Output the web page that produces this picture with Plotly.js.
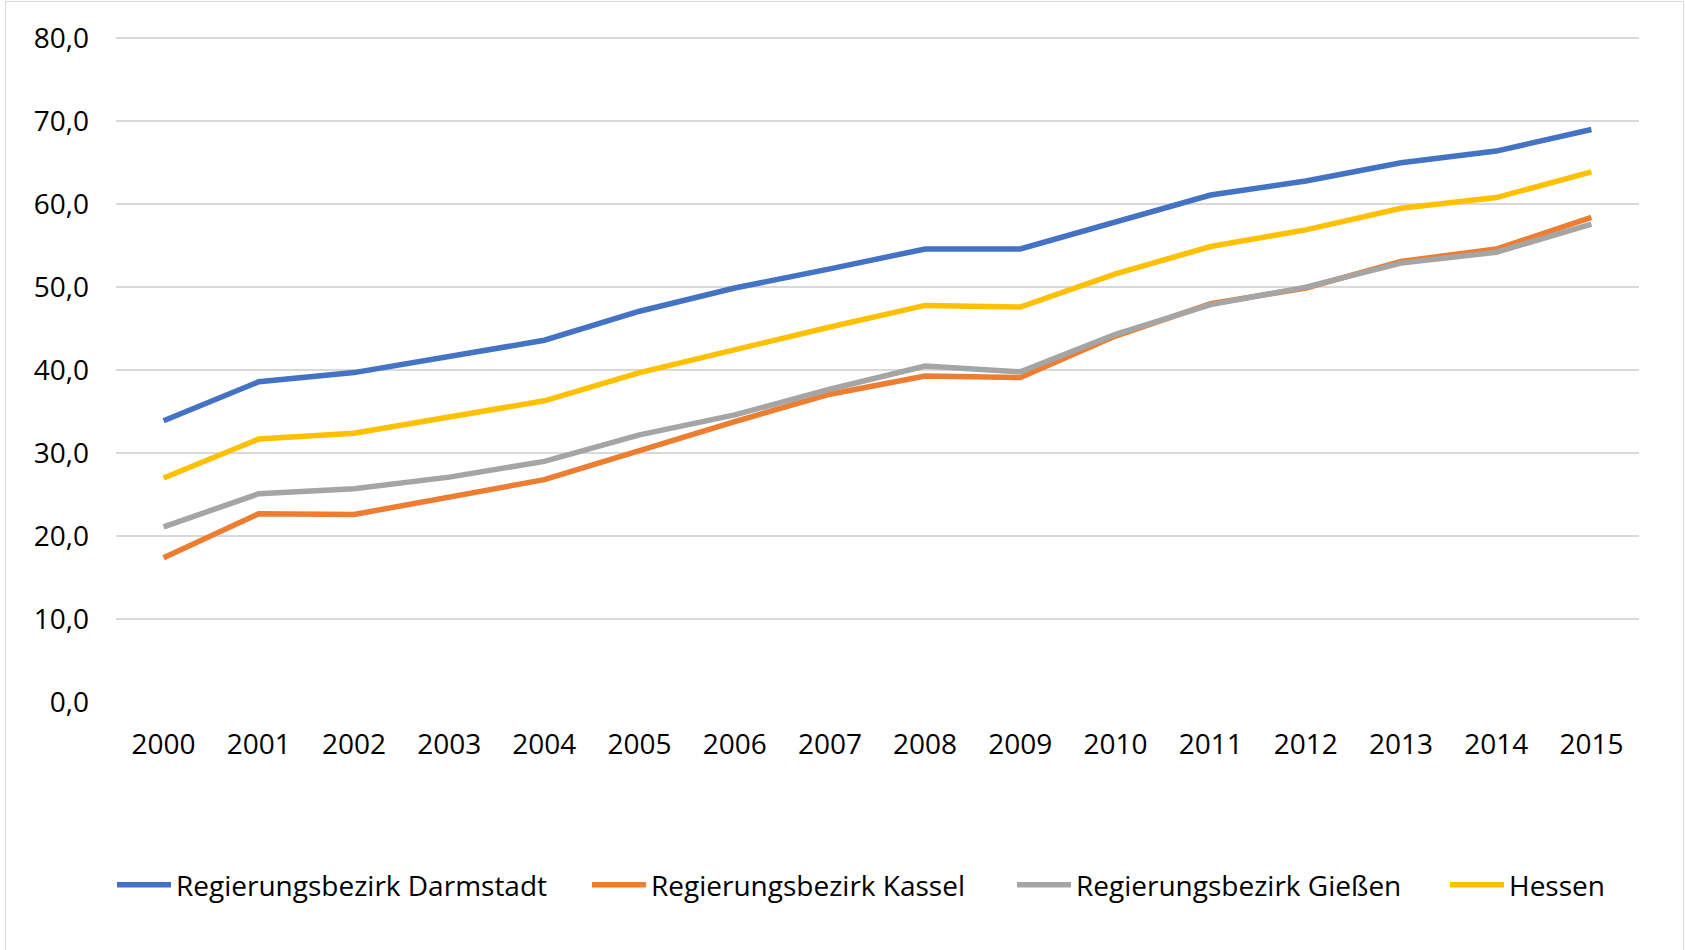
<!DOCTYPE html>
<html>
<head>
<meta charset="utf-8">
<script src="https://cdn.plot.ly/plotly-3.0.1.min.js"></script>
<style>
  html, body { margin: 0; padding: 0; background: #fff; overflow: hidden; }
  #chart { width: 1685px; height: 950px; }
  #frame { position: absolute; left: 5px; top: 1px; width: 1677px; height: 970px; border: 1px solid #d9d9d9; pointer-events: none; }
</style>
</head>
<body>
<div id="chart"></div>
<div id="frame"></div>
<script>
const years = ['2000','2001','2002','2003','2004','2005','2006','2007','2008','2009','2010','2011','2012','2013','2014','2015'];
const darmstadt = [33.9, 38.6, 39.7, 41.6, 43.6, 47.1, 49.9, 52.2, 54.6, 54.6, 57.9, 61.1, 62.8, 65.0, 66.4, 69.0];
const kassel    = [17.4, 22.7, 22.6, 24.7, 26.8, 30.3, 33.8, 37.1, 39.3, 39.1, 44.1, 48.0, 49.9, 53.1, 54.6, 58.4];
const giessen   = [21.1, 25.1, 25.7, 27.1, 29.0, 32.2, 34.6, 37.7, 40.5, 39.8, 44.3, 47.9, 50.0, 52.9, 54.2, 57.6];
const hessen    = [27.0, 31.7, 32.4, 34.3, 36.3, 39.7, 42.5, 45.2, 47.8, 47.6, 51.6, 54.9, 56.9, 59.5, 60.8, 63.9];
const seriesNames = ['Regierungsbezirk Darmstadt', 'Regierungsbezirk Kassel', 'Regierungsbezirk Gießen', 'Hessen'];
const yTicks = [0, 10, 20, 30, 40, 50, 60, 70, 80];

const colors = ['#4472C4', '#ED7D31', '#A5A5A5', '#FFC000'];
const allSeries = [darmstadt, kassel, giessen, hessen];
const legendIds = ['legend', 'legend2', 'legend3', 'legend4'];
const legendLeft = [112, 587, 1012, 1445];  // pixel positions of each legend entry

const traces = allSeries.map((vals, i) => ({
  type: 'scatter',
  mode: 'lines',
  x: years,
  y: vals,
  name: seriesNames[i],
  legend: legendIds[i],
  line: { color: colors[i], width: 5.5, shape: 'linear' },
  hoverinfo: 'x+y+name'
}));

const font = { family: '"Open Sans", "Noto Sans", sans-serif', size: 28, color: '#000' };

const layout = {
  width: 1685,
  height: 950,
  paper_bgcolor: '#fff',
  plot_bgcolor: '#fff',
  separators: ',.',
  font: font,
  margin: { l: 116, r: 46, t: 37, b: 248, pad: 0 },
  showlegend: true,
  xaxis: {
    type: 'category',
    range: [-0.5, years.length - 0.5],
    showgrid: false,
    zeroline: false,
    showline: false,
    ticks: '',
    tickfont: font,
    ticklabelstandoff: 23,
    fixedrange: true
  },
  yaxis: {
    range: [0, 80.15],
    tickmode: 'array',
    tickvals: yTicks,
    tickformat: '.1f',
    showgrid: true,
    gridcolor: '#d9d9d9',
    gridwidth: 1.5,
    zeroline: false,
    showline: false,
    ticks: '',
    tickfont: font,
    ticklabelstandoff: 26,
    fixedrange: true
  }
};

legendIds.forEach((id, i) => {
  layout[id] = {
    orientation: 'h',
    x: legendLeft[i] / 1685, xanchor: 'left', xref: 'container',
    y: 1 - 885 / 950, yanchor: 'middle', yref: 'container',
    font: font,
    itemwidth: 54,
    bgcolor: 'rgba(0,0,0,0)',
    borderwidth: 0
  };
});

Plotly.newPlot('chart', traces, layout, { displayModeBar: false });
</script>
</body>
</html>
